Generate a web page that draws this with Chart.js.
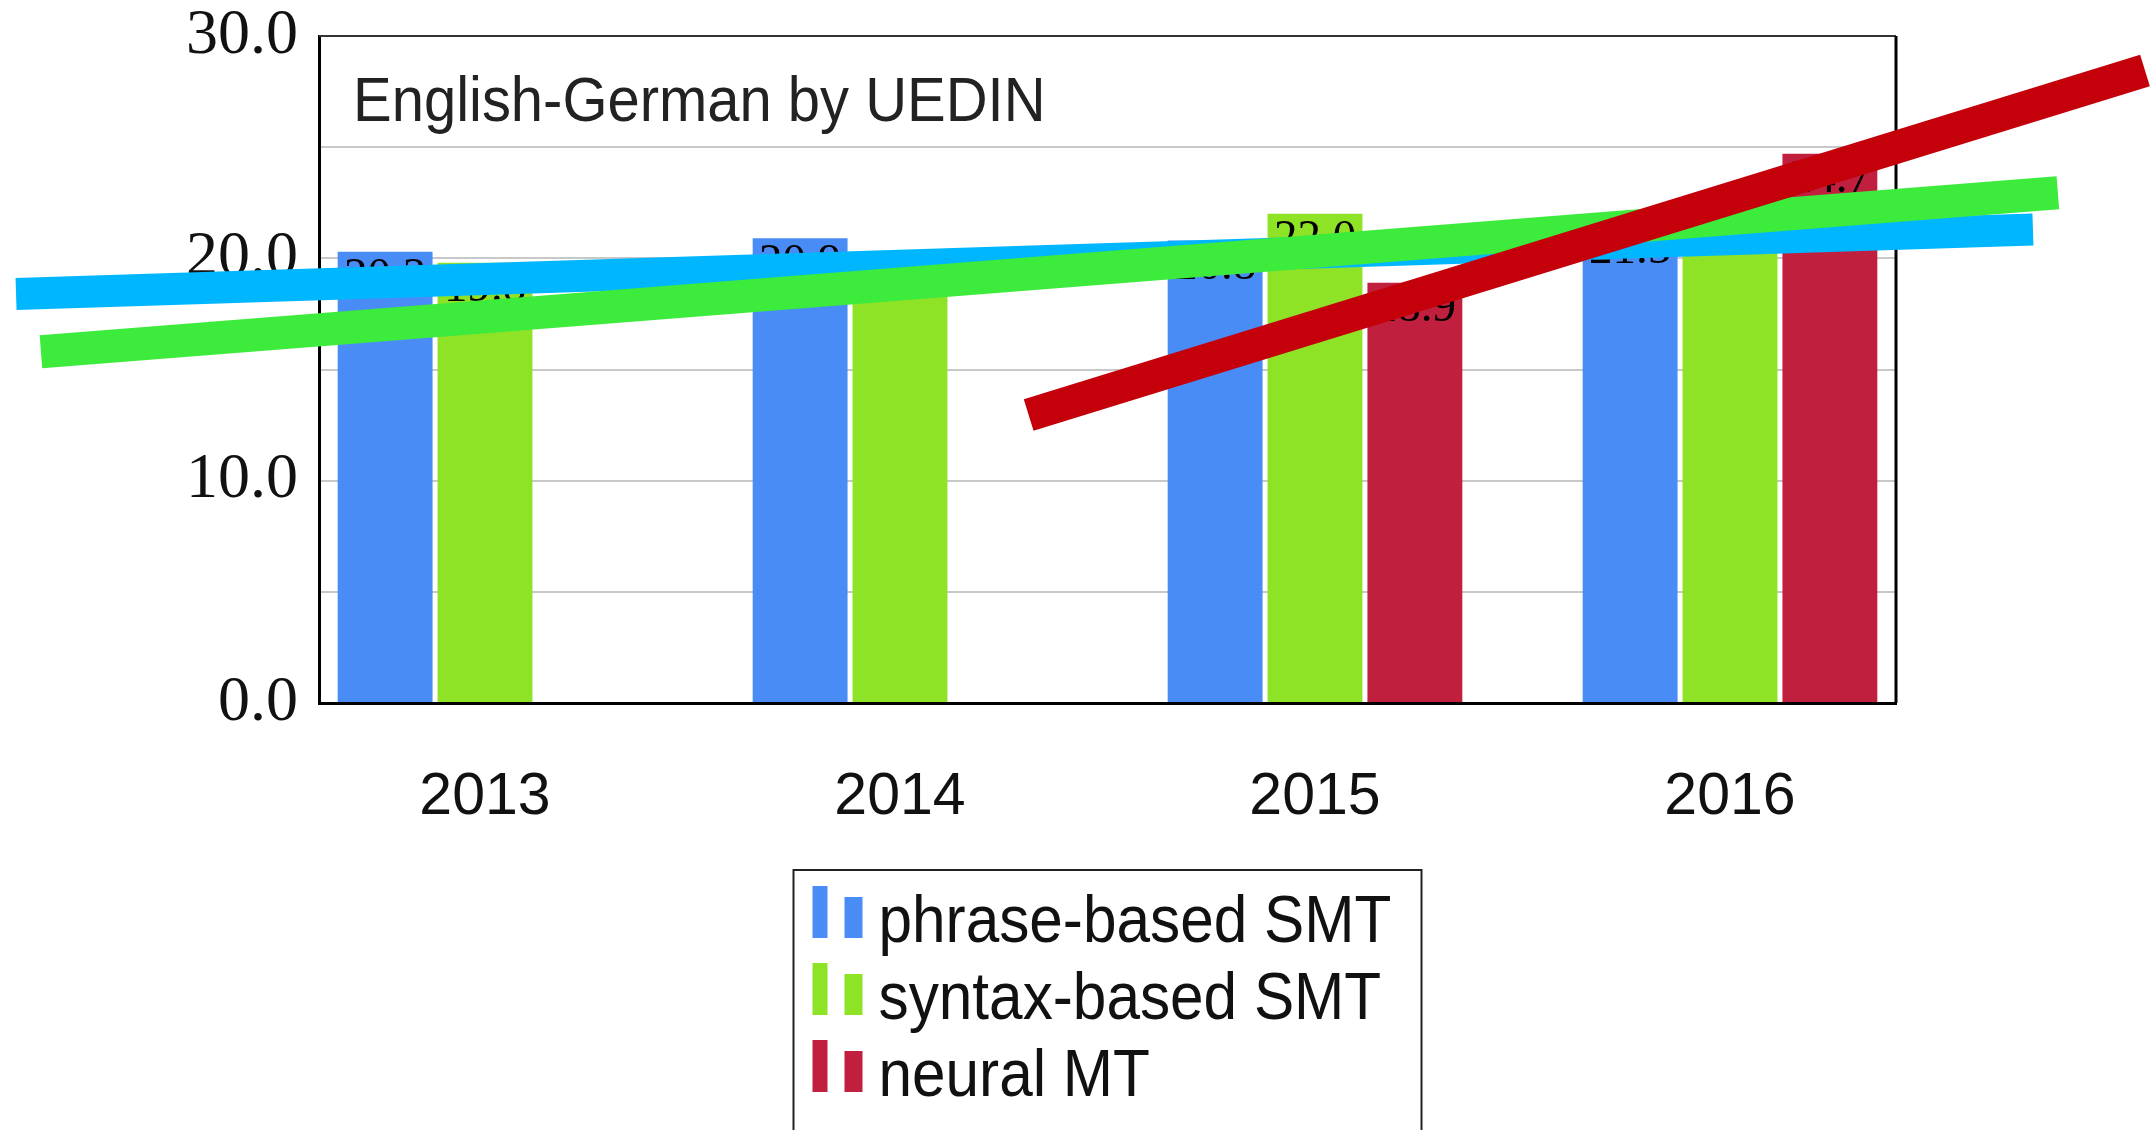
<!DOCTYPE html>
<html>
<head>
<meta charset="utf-8">
<script src="https://cdn.jsdelivr.net/npm/chart.js@4.4.1/dist/chart.umd.min.js"></script>
<style>
    html, body { margin: 0; padding: 0; background: #fff; }
</style>
</head>
<body>
<canvas id="myChart" width="2154" height="1130"></canvas>
<script>
const chartTitle = 'English-German by UEDIN';
const years = ['2013', '2014', '2015', '2016'];
const seriesNames = ['phrase-based SMT', 'syntax-based SMT', 'neural MT'];
const phraseBased = [20.3, 20.9, 20.8, 21.5];
const syntaxBased = [19.8, 20.2, 22.0, 22.1];
const neuralMT = [null, null, 18.9, 24.7];
const yTicks = [0, 5, 10, 15, 20, 25, 30];
const yLabelled = [0, 10, 20, 30];

// thick trend strokes drawn over the bars: [x (year index), y] at both ends
const blueTrend = [[-1.13, 18.4], [3.73, 21.3]];
const greenTrend = [[-1.07, 15.8], [3.79, 22.95]];
const redTrend = [[1.31, 12.95], [4.0, 28.45]];

function barData(values) {
    return values.map((v, i) => ({ x: i, y: v })).filter(p => p.y !== null);
}

function trendData(points) {
    return points.map(p => ({ x: p[0], y: p[1] }));
}

// the sans text in the picture is a little narrower than Liberation Sans
function narrowText(ctx, text, x, y, squeeze) {
    ctx.save();
    ctx.translate(x, y);
    ctx.scale(squeeze, 1);
    ctx.fillText(text, 0, 0);
    ctx.restore();
}

// value written inside the top of each bar (before the strokes cover them)
const barValues = {
    id: 'barValues',
    afterDatasetDraw(chart, args) {
        let ds = chart.data.datasets[args.index];
        if (ds.type === 'line') return;
        let ctx = chart.ctx;
        ctx.save();
        ctx.font = '47px "Liberation Serif"';
        ctx.fillStyle = '#000';
        ctx.textAlign = 'center';
        ctx.textBaseline = 'alphabetic';
        args.meta.data.forEach((bar, j) => {
            ctx.fillText(ds.data[j].y.toFixed(1), bar.x, bar.y + 38);
        });
        ctx.restore();
    }
};

// frame top/right edges and the title inside the plot
const frame = {
    id: 'frame',
    beforeDatasetsDraw(chart) {
        let ctx = chart.ctx;
        let a = chart.chartArea;
        ctx.save();
        ctx.strokeStyle = '#333';
        ctx.lineWidth = 2;
        ctx.beginPath();
        ctx.moveTo(a.left, a.top);
        ctx.lineTo(a.right, a.top);
        ctx.stroke();
        ctx.strokeStyle = '#000';
        ctx.lineWidth = 3;
        ctx.beginPath();
        ctx.moveTo(a.right, a.top);
        ctx.lineTo(a.right, a.bottom);
        ctx.stroke();
        ctx.font = '63px "Liberation Sans"';
        ctx.fillStyle = '#222';
        ctx.textAlign = 'left';
        narrowText(ctx, chartTitle, a.left + 34, a.top + 85, 0.92);
        ctx.restore();
    }
};

// boxed legend under the axis, one series per line
const legendBox = {
    id: 'legendBox',
    afterDraw(chart) {
        let ctx = chart.ctx;
        let a = chart.chartArea;
        let left = (a.left + a.right) / 2 - 314;
        let top = a.bottom + 167;
        ctx.save();
        ctx.strokeStyle = '#222';
        ctx.lineWidth = 2;
        ctx.strokeRect(left, top, 628, 300);
        ctx.font = '67px "Liberation Sans"';
        ctx.textAlign = 'left';
        ctx.textBaseline = 'alphabetic';
        chart.data.datasets.forEach((ds, i) => {
            if (ds.type === 'line') return;
            let y = top + 16 + i * 77;
            ctx.fillStyle = ds.backgroundColor;
            ctx.fillRect(left + 19, y, 15, 52);
            ctx.fillRect(left + 51, y + 11, 18, 41);
            ctx.fillStyle = '#111';
            narrowText(ctx, ds.label, left + 85, y + 56, 0.9);
        });
        ctx.restore();
    }
};

const ctx = document.getElementById('myChart');

new Chart(ctx, {
    type: 'bar',
    data: {
        datasets: [
            { label: seriesNames[0], data: barData(phraseBased), backgroundColor: '#4a8cf5', order: 10 },
            { label: seriesNames[1], data: barData(syntaxBased), backgroundColor: '#8fe326', order: 10 },
            { label: seriesNames[2], data: barData(neuralMT), backgroundColor: '#c11f3e', order: 10 },
            { type: 'line', data: trendData(blueTrend), borderColor: '#00b6ff', borderWidth: 32, borderCapStyle: 'butt', pointRadius: 0, clip: false, order: 3 },
            { type: 'line', data: trendData(greenTrend), borderColor: '#3ceb3c', borderWidth: 33, borderCapStyle: 'butt', pointRadius: 0, clip: false, order: 2 },
            { type: 'line', data: trendData(redTrend), borderColor: '#c4000b', borderWidth: 33, borderCapStyle: 'butt', pointRadius: 0, clip: false, order: 1 }
        ]
    },
    options: {
        responsive: false,
        animation: false,
        events: [],
        categoryPercentage: 0.722,
        barPercentage: 0.95,
        layout: {
            padding: { left: 186, right: 258, top: 36, bottom: 300 }
        },
        scales: {
            x: {
                type: 'linear',
                offset: false,
                min: -0.4,
                max: 3.4,
                afterBuildTicks: (scale) => {
                    scale.ticks = years.map((y, i) => ({ value: i }));
                },
                afterFit: (scale) => {
                    scale.height = 127;
                },
                ticks: {
                    autoSkip: false,
                    maxRotation: 0,
                    padding: 59,
                    color: '#111',
                    font: { family: 'Liberation Sans', size: 59 },
                    callback: (v) => years[v]
                },
                grid: { display: false, drawTicks: false },
                border: { display: true, color: '#000', width: 3 }
            },
            y: {
                min: 0,
                max: 30,
                afterBuildTicks: (scale) => {
                    scale.ticks = yTicks.map(v => ({ value: v }));
                },
                afterFit: (scale) => {
                    scale.width = 133;
                    scale.paddingTop = 0;
                    scale.paddingBottom = 0;
                },
                ticks: {
                    padding: 21,
                    color: '#111',
                    font: { family: 'Liberation Serif', size: 64 },
                    callback: (v) => yLabelled.includes(v) ? v.toFixed(1) : ''
                },
                grid: { color: '#c8c8c8', lineWidth: 2, drawTicks: false },
                border: { color: '#000', width: 3 }
            }
        },
        plugins: {
            legend: { display: false },
            tooltip: { enabled: false }
        }
    },
    plugins: [barValues, frame, legendBox]
});
</script>
</body>
</html>
